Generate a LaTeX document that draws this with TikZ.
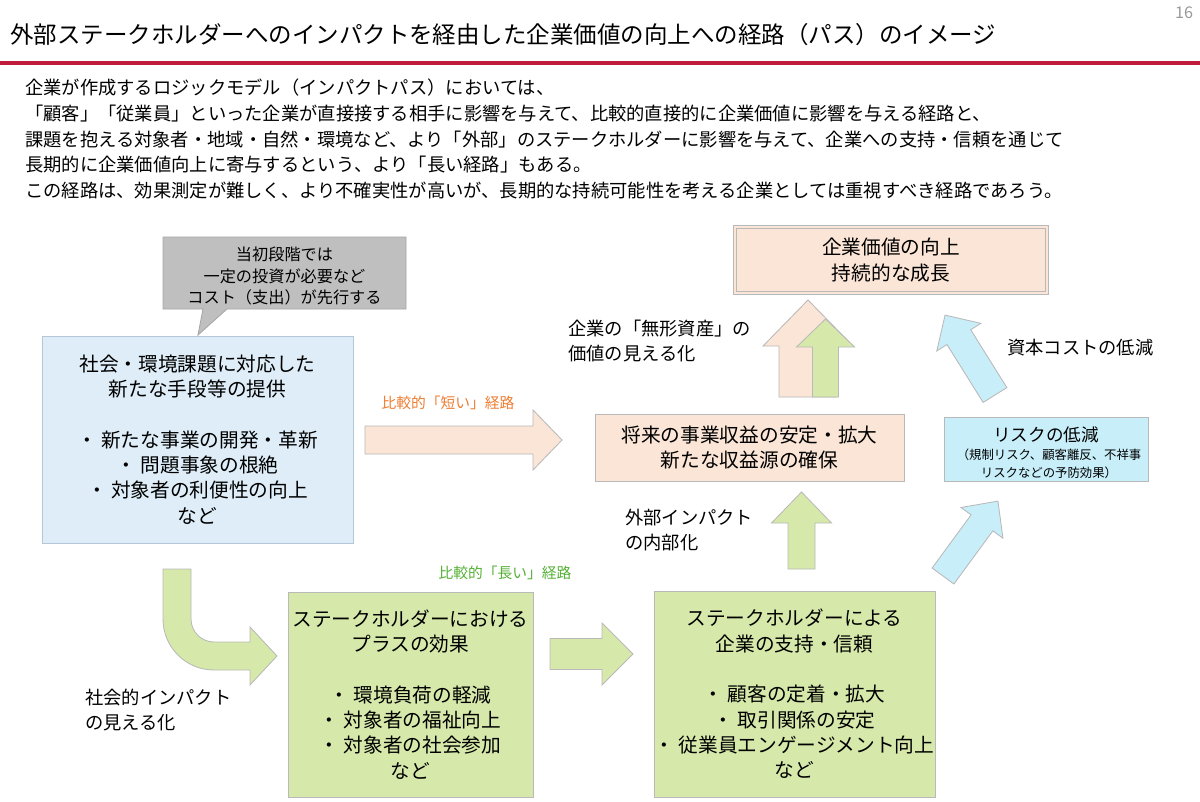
\documentclass[tikz,border=0pt]{standalone}
\usepackage{fontspec}
\setmainfont{Noto Sans CJK JP}
\usepackage{xcolor}
\usepackage{tikz}
\usetikzlibrary{calc}

\definecolor{slidered}{RGB}{190,28,58}
\definecolor{peach}{RGB}{251,229,214}
\definecolor{leaf}{RGB}{214,233,170}
\definecolor{sky}{RGB}{222,237,247}
\definecolor{aqua}{RGB}{200,238,250}
\definecolor{shortcol}{RGB}{237,125,49}
\definecolor{longcol}{RGB}{84,176,52}
\definecolor{edgegray}{RGB}{185,185,185}
\definecolor{skyedge}{RGB}{180,198,215}
\definecolor{calloutgray}{RGB}{191,191,191}

\newcommand{\px}{0.025cm}
\newcommand{\setfs}[2]{\fontsize{#1}{#2}\selectfont}
% block arrow: style, tail, tip, body half width, head half width, head length (px)
\newcommand{\blockarrow}[6]{%
  \path[#1] let \p1=#2, \p2=#3,
    \n1={atan2(\y2-\y1,\x2-\x1)}, \n2={veclen(\x2-\x1,\y2-\y1)} in
    [shift={(\p1)}, rotate=\n1]
    (0pt,-#4*\px) -- ({\n2*1pt-#6*\px},-#4*\px) -- ({\n2*1pt-#6*\px},-#5*\px)
    -- ({\n2*1pt},0pt) -- ({\n2*1pt-#6*\px},#5*\px) -- ({\n2*1pt-#6*\px},#4*\px)
    -- (0pt,#4*\px) -- cycle;}

\begin{document}
\begin{tikzpicture}[x=0.025cm, y=0.025cm,
  box/.style={draw=edgegray, line width=0.6pt, inner sep=0pt, align=center, font=\setfs{14}{18}},
  lbl/.style={inner sep=0pt, align=left, font=\setfs{13}{18.4}},
  pathlbl/.style={inner sep=0pt, font=\setfs{10.5}{13}},
  peacharrow/.style={fill=peach, draw=edgegray, line width=0.6pt},
  leafarrow/.style={fill=leaf, draw=edgegray, line width=0.6pt},
  aquaarrow/.style={fill=aqua, draw=edgegray, line width=0.6pt}]
  \path[fill=white] (0,0) rectangle (1200,-801);
  \useasboundingbox (0,0) rectangle (1200,-801);

  % Header
  \node[anchor=west, inner sep=0pt, font=\setfs{16.7}{20}] (title) at (10,-35)
    {外部ステークホルダーへのインパクトを経由した企業価値の向上への経路（パス）のイメージ};
  \node[inner sep=0pt, text=gray!80, font=\setfs{11.5}{13}] (page) at (1184,-13) {16};
  \draw[slidered, line width=2.4pt] (0,-63) -- (1200,-63);

  % Intro text
  \node[lbl] (intro) [anchor=west] at (25,-139)
    {企業が作成するロジックモデル（インパクトパス）においては、\\
     「顧客」「従業員」といった企業が直接接する相手に影響を与えて、比較的直接的に企業価値に影響を与える経路と、\\
     課題を抱える対象者・地域・自然・環境など、より「外部」のステークホルダーに影響を与えて、企業への支持・信頼を通じて\\
     長期的に企業価値向上に寄与するという、より「長い経路」もある。\\
     この経路は、効果測定が難しく、より不確実性が高いが、長期的な持続可能性を考える企業としては重視すべき経路であろう。};

  % Callout
  \draw[fill=calloutgray, draw=gray!70, line width=0.6pt] (163,-237) -- (406,-237) -- (406,-309)
    -- (227,-309) -- (198,-335) -- (203,-309) -- (163,-309) -- cycle;
  \node[inner sep=0pt, align=center, font=\setfs{11.5}{15}] (cost) at (284.5,-276)
    {当初段階では\\一定の投資が必要など\\コスト（支出）が先行する};

  % Boxes
  \node[box, draw=skyedge, fill=sky, minimum width=311*\px, minimum height=207*\px] (social) at (197.5,-439.5)
    {社会・環境課題に対応した\\新たな手段等の提供\\[18pt]
     ・ 新たな事業の開発・革新\\・ 問題事象の根絶\\・ 対象者の利便性の向上\\など};
  \node[box, fill=peach, minimum width=309*\px, minimum height=67*\px] (revenue) at (749.5,-447.5)
    {将来の事業収益の安定・拡大\\新たな収益源の確保};
  \node[box, fill=peach, double=peach, double distance=1.6pt, minimum width=312*\px, minimum height=66*\px] (value) at (891,-260)
    {企業価値の向上\\持続的な成長};
  \node[box, fill=aqua, minimum width=204*\px, minimum height=64*\px] (risk) at (1046,-449) {};
  \node[inner sep=0pt, font=\setfs{12.5}{15}] (risktitle) at (1046,-435) {リスクの低減};
  \node[inner sep=0pt, align=center, font=\setfs{8.8}{12.8}] (risknote) at (1049,-464)
    {（規制リスク、顧客離反、不祥事\\リスクなどの予防効果）};
  \node[box, fill=leaf, minimum width=245*\px, minimum height=205*\px] (plus) at (410.5,-694.5)
    {ステークホルダーにおける\\プラスの効果\\[18pt]
     ・ 環境負荷の軽減\\・ 対象者の福祉向上\\・ 対象者の社会参加\\など};
  \node[box, fill=leaf, minimum width=281*\px, minimum height=206*\px] (support) at (794.5,-694)
    {ステークホルダーによる\\企業の支持・信頼\\[18pt]
     ・ 顧客の定着・拡大\\・ 取引関係の安定\\・ 従業員エンゲージメント向上\\など};

  % Short path
  \coordinate (shorttail) at (365,-440);
  \coordinate (shorttip) at (562,-440);
  \blockarrow{peacharrow}{(shorttail)}{(shorttip)}{14}{30}{29}
  \node[pathlbl, text=shortcol] (shortlbl) at (448,-403) {比較的「短い」経路};

  % Up to corporate value
  \coordinate (valtail) at (808,-397);
  \coordinate (valtip) at (808,-300);
  \blockarrow{peacharrow}{(valtail)}{(valtip)}{29}{45}{46}
  \coordinate (gvaltail) at (825.5,-397);
  \coordinate (gvaltip) at (825.5,-319);
  \blockarrow{leafarrow}{(gvaltail)}{(gvaltip)}{13}{29}{28}
  \node[lbl, anchor=west] (intang) at (568,-341) {企業の「無形資産」の\\価値の見える化};

  % Risk arrows
  \coordinate (captail) at (995,-395);
  \coordinate (captip) at (945,-315);
  \blockarrow{aquaarrow}{(captail)}{(captip)}{14}{26}{26}
  \coordinate (risktail) at (943,-576);
  \coordinate (risktip) at (998,-501);
  \blockarrow{aquaarrow}{(risktail)}{(risktip)}{13.5}{26}{27}
  \node[lbl, anchor=west] (capital) at (1007,-348) {資本コストの低減};

  % Long path
  \node[pathlbl, text=longcol] (longlbl) at (505,-573) {比較的「長い」経路};
  \draw[leafarrow] (163,-569) -- (163,-619) arc[start angle=180, end angle=270, radius=51]
    -- (250,-670) -- (250,-685) -- (277,-656) -- (250,-627) -- (250,-642) -- (214,-642)
    arc[start angle=270, end angle=180, radius=23] -- (191,-569) -- cycle;
  \node[lbl, anchor=west] (socialvis) at (85,-710) {社会的インパクト\\の見える化};
  \coordinate (longtail) at (550,-654);
  \coordinate (longtip) at (633,-654);
  \blockarrow{leafarrow}{(longtail)}{(longtip)}{15.5}{31}{31}
  \coordinate (inttail) at (801.5,-569);
  \coordinate (inttip) at (801.5,-492);
  \blockarrow{leafarrow}{(inttail)}{(inttip)}{13.5}{30}{31}
  \node[lbl, anchor=west] (internal) at (625,-530) {外部インパクト\\の内部化};
\end{tikzpicture}
\end{document}
